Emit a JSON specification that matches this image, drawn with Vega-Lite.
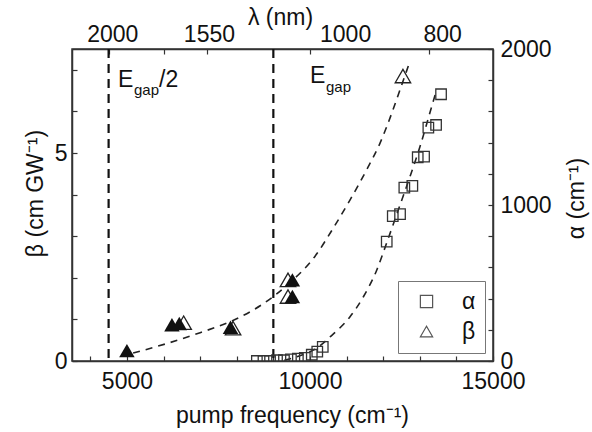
{
  "$schema": "https://vega.github.io/schema/vega-lite/v6.json",
  "autosize": {"type": "none"},
  "width": 421,
  "height": 312,
  "padding": {"left": 72, "top": 49, "right": 99, "bottom": 71},
  "background": "white",
  "config": {
    "font": "Liberation Sans",
    "view": {"stroke": "#333", "strokeWidth": 1.5},
    "axis": {
      "grid": false,
      "domainColor": "#333",
      "domainWidth": 1.5,
      "tickColor": "#333",
      "tickWidth": 1.2,
      "tickSize": -5,
      "labelFont": "Liberation Sans",
      "labelFontSize": 23,
      "labelColor": "#111",
      "titleFont": "Liberation Sans",
      "titleFontSize": 23,
      "titleFontWeight": "normal",
      "titleColor": "#111",
      "labelFlush": false,
      "labelOverlap": false
    }
  },
  "resolve": {"scale": {"y": "independent"}, "axis": {"x": "independent", "y": "independent"}},
  "layer": [
    {
      "data": {"values": [{"freq": 4500, "name": "Egap/2"}]},
      "mark": {"type": "rule", "strokeDash": [9, 6], "strokeWidth": 2.2, "color": "#111"},
      "encoding": {
        "x": {
          "field": "freq", "type": "quantitative",
          "scale": {"domain": [3500, 15000], "nice": false, "zero": false},
          "axis": {
            "orient": "bottom",
            "values": [4000, 5000, 6000, 7000, 8000, 9000, 10000, 11000, 12000, 13000, 14000, 15000],
            "labelExpr": "datum.value % 5000 === 0 ? '' + datum.value : ''",
            "labelPadding": 14,
            "title": "pump frequency (cm⁻¹)",
            "titleX": 220,
            "titleY": 61,
            "titleBaseline": "alphabetic"
          }
        }
      }
    },
    {
      "data": {"values": [{"freq": 9000, "name": "Egap"}]},
      "mark": {"type": "rule", "strokeDash": [9, 6], "strokeWidth": 2.2, "color": "#111"},
      "encoding": {
        "x": {
          "field": "freq", "type": "quantitative",
          "scale": {"domain": [3500, 15000], "nice": false, "zero": false},
          "axis": {
            "orient": "top",
            "values": [4500, 6000, 7180, 10000, 13260],
            "labels": false,
            "title": null
          }
        }
      }
    },
    {
      "data": {"values": [
        {"freq": 5170, "beta": 0.19},
        {"freq": 6090, "beta": 0.42},
        {"freq": 7000, "beta": 0.68},
        {"freq": 7910, "beta": 0.98},
        {"freq": 8400, "beta": 1.2},
        {"freq": 9000, "beta": 1.55},
        {"freq": 9450, "beta": 1.88},
        {"freq": 10140, "beta": 2.52},
        {"freq": 10640, "beta": 3.2},
        {"freq": 11100, "beta": 3.88},
        {"freq": 11550, "beta": 4.6},
        {"freq": 11920, "beta": 5.25},
        {"freq": 12190, "beta": 5.85},
        {"freq": 12420, "beta": 6.42},
        {"freq": 12690, "beta": 7.1}
      ]},
      "mark": {"type": "line", "strokeDash": [7, 6], "strokeWidth": 1.6, "color": "#222", "interpolate": "monotone"},
      "encoding": {
        "x": {
          "field": "freq", "type": "quantitative",
          "scale": {"domain": [3500, 15000], "nice": false, "zero": false},
          "axis": {
            "orient": "top",
            "values": [4600, 7240, 10960, 13610],
            "labelExpr": "datum.value == 4600 ? '2000' : datum.value == 7240 ? '1550' : datum.value == 10960 ? '1000' : '800'",
            "ticks": false,
            "domain": false,
            "labelPadding": 3,
            "title": "λ (nm)",
            "titleX": 208,
            "titleY": -25,
            "titleBaseline": "alphabetic"
          }
        },
        "y": {
          "field": "beta", "type": "quantitative",
          "scale": {"domain": [0, 7.5], "nice": false},
          "axis": {
            "orient": "left",
            "values": [0, 1, 2, 3, 4, 5, 6, 7],
            "labelExpr": "datum.value % 5 === 0 ? '' + datum.value : ''",
            "labelPadding": 10,
            "title": "β (cm GW⁻¹)",
            "titleAngle": -90,
            "titleX": -30,
            "titleY": 144,
            "titleAlign": "center",
            "titleBaseline": "alphabetic"
          }
        }
      }
    },
    {
      "data": {"values": [
        {"freq": 9300, "alpha": 5},
        {"freq": 9800, "alpha": 40},
        {"freq": 10200, "alpha": 85},
        {"freq": 10550, "alpha": 155},
        {"freq": 11100, "alpha": 285},
        {"freq": 11460, "alpha": 412},
        {"freq": 11820, "alpha": 580},
        {"freq": 12100, "alpha": 760},
        {"freq": 12400, "alpha": 960},
        {"freq": 12700, "alpha": 1160},
        {"freq": 13000, "alpha": 1370},
        {"freq": 13300, "alpha": 1610},
        {"freq": 13450, "alpha": 1730}
      ]},
      "mark": {"type": "line", "strokeDash": [7, 6], "strokeWidth": 1.6, "color": "#222", "interpolate": "monotone"},
      "encoding": {
        "x": {"field": "freq", "type": "quantitative", "scale": {"domain": [3500, 15000], "nice": false, "zero": false}, "axis": null},
        "y": {
          "field": "alpha", "type": "quantitative",
          "scale": {"domain": [0, 2000], "nice": false},
          "axis": {
            "orient": "right",
            "values": [0, 200, 400, 600, 800, 1000, 1200, 1400, 1600, 1800, 2000],
            "labelExpr": "datum.value % 1000 === 0 ? '' + datum.value : ''",
            "labelPadding": 12,
            "title": "α (cm⁻¹)",
            "titleAngle": 270,
            "titleX": 90,
            "titleY": 149,
            "titleAlign": "center",
            "titleBaseline": "alphabetic"
          }
        }
      }
    },
    {
      "data": {"values": [
        {"freq": 6550, "beta": 0.92, "series": "β"},
        {"freq": 7900, "beta": 0.79, "series": "β"},
        {"freq": 9400, "beta": 1.95, "series": "β"},
        {"freq": 9400, "beta": 1.55, "series": "β"},
        {"freq": 12540, "beta": 6.85, "series": "β"}
      ]},
      "mark": {"type": "point", "filled": false, "size": 240, "strokeWidth": 1.3, "color": "#222", "opacity": 1},
      "encoding": {
        "x": {"field": "freq", "type": "quantitative", "scale": {"domain": [3500, 15000], "nice": false, "zero": false}, "axis": null},
        "y": {"field": "beta", "type": "quantitative", "scale": {"domain": [0, 7.5], "nice": false}, "axis": null},
        "shape": {
          "field": "series", "type": "nominal",
          "scale": {"domain": ["α", "β"], "range": ["square", "triangle-up"]},
          "legend": {
            "orient": "bottom-right",
            "offset": 8,
            "title": null,
            "padding": 9,
            "strokeColor": "#777",
            "fillColor": "white",
            "labelFontSize": 23,
            "labelFont": "Liberation Sans",
            "labelColor": "#111",
            "labelOffset": 24,
            "symbolOffset": 8,
            "symbolSize": 150,
            "symbolStrokeColor": "#555",
            "symbolStrokeWidth": 1.2,
            "symbolFillColor": "white",
            "rowPadding": 6
          }
        }
      }
    },
    {
      "data": {"values": [
        {"freq": 5000, "beta": 0.25},
        {"freq": 6230, "beta": 0.87},
        {"freq": 6430, "beta": 0.9},
        {"freq": 7830, "beta": 0.81},
        {"freq": 9520, "beta": 1.95},
        {"freq": 9520, "beta": 1.55}
      ]},
      "mark": {"type": "point", "shape": "triangle-up", "filled": true, "size": 240, "color": "#111", "opacity": 1},
      "encoding": {
        "x": {"field": "freq", "type": "quantitative", "scale": {"domain": [3500, 15000], "nice": false, "zero": false}, "axis": null},
        "y": {"field": "beta", "type": "quantitative", "scale": {"domain": [0, 7.5], "nice": false}, "axis": null}
      }
    },
    {
      "data": {"values": [
        {"freq": 8550, "alpha": 0, "series": "α"},
        {"freq": 8730, "alpha": 0, "series": "α"},
        {"freq": 8910, "alpha": 0, "series": "α"},
        {"freq": 9100, "alpha": 5, "series": "α"},
        {"freq": 9290, "alpha": 5, "series": "α"},
        {"freq": 9480, "alpha": 10, "series": "α"},
        {"freq": 9670, "alpha": 15, "series": "α"},
        {"freq": 9860, "alpha": 20, "series": "α"},
        {"freq": 10050, "alpha": 40, "series": "α"},
        {"freq": 10200, "alpha": 60, "series": "α"},
        {"freq": 10350, "alpha": 90, "series": "α"},
        {"freq": 12097, "alpha": 765, "series": "α"},
        {"freq": 12262, "alpha": 929, "series": "α"},
        {"freq": 12461, "alpha": 942, "series": "α"},
        {"freq": 12578, "alpha": 1111, "series": "α"},
        {"freq": 12797, "alpha": 1122, "series": "α"},
        {"freq": 12944, "alpha": 1306, "series": "α"},
        {"freq": 13117, "alpha": 1310, "series": "α"},
        {"freq": 13234, "alpha": 1496, "series": "α"},
        {"freq": 13445, "alpha": 1513, "series": "α"},
        {"freq": 13581, "alpha": 1710, "series": "α"}
      ]},
      "mark": {"type": "point", "filled": false, "size": 110, "strokeWidth": 1.3, "color": "#333", "opacity": 1, "clip": true},
      "encoding": {
        "x": {"field": "freq", "type": "quantitative", "scale": {"domain": [3500, 15000], "nice": false, "zero": false}, "axis": null},
        "y": {"field": "alpha", "type": "quantitative", "scale": {"domain": [0, 2000], "nice": false}, "axis": null},
        "shape": {"field": "series", "type": "nominal", "scale": {"domain": ["α", "β"], "range": ["square", "triangle-up"]}}
      }
    },
    {
      "data": {"values": [{"label": "E"}]},
      "mark": {"type": "text", "align": "left", "baseline": "alphabetic", "fontSize": 23, "color": "#111"},
      "encoding": {
        "text": {"field": "label"},
        "x": {"datum": 4757, "type": "quantitative", "scale": {"domain": [3500, 15000], "nice": false, "zero": false}, "axis": null},
        "y": {"datum": 6.59, "type": "quantitative", "scale": {"domain": [0, 7.5], "nice": false}, "axis": null}
      }
    },
    {
      "data": {"values": [{"label": "gap"}]},
      "mark": {"type": "text", "align": "left", "baseline": "alphabetic", "fontSize": 15, "color": "#111"},
      "encoding": {
        "text": {"field": "label"},
        "x": {"datum": 5194, "type": "quantitative", "scale": {"domain": [3500, 15000], "nice": false, "zero": false}, "axis": null},
        "y": {"datum": 6.4, "type": "quantitative", "scale": {"domain": [0, 7.5], "nice": false}, "axis": null}
      }
    },
    {
      "data": {"values": [{"label": "/2"}]},
      "mark": {"type": "text", "align": "left", "baseline": "alphabetic", "fontSize": 23, "color": "#111"},
      "encoding": {
        "text": {"field": "label"},
        "x": {"datum": 5877, "type": "quantitative", "scale": {"domain": [3500, 15000], "nice": false, "zero": false}, "axis": null},
        "y": {"datum": 6.59, "type": "quantitative", "scale": {"domain": [0, 7.5], "nice": false}, "axis": null}
      }
    },
    {
      "data": {"values": [{"label": "E"}]},
      "mark": {"type": "text", "align": "left", "baseline": "alphabetic", "fontSize": 23, "color": "#111"},
      "encoding": {
        "text": {"field": "label"},
        "x": {"datum": 10002, "type": "quantitative", "scale": {"domain": [3500, 15000], "nice": false, "zero": false}, "axis": null},
        "y": {"datum": 6.68, "type": "quantitative", "scale": {"domain": [0, 7.5], "nice": false}, "axis": null}
      }
    },
    {
      "data": {"values": [{"label": "gap"}]},
      "mark": {"type": "text", "align": "left", "baseline": "alphabetic", "fontSize": 15, "color": "#111"},
      "encoding": {
        "text": {"field": "label"},
        "x": {"datum": 10439, "type": "quantitative", "scale": {"domain": [3500, 15000], "nice": false, "zero": false}, "axis": null},
        "y": {"datum": 6.47, "type": "quantitative", "scale": {"domain": [0, 7.5], "nice": false}, "axis": null}
      }
    }
  ]
}
